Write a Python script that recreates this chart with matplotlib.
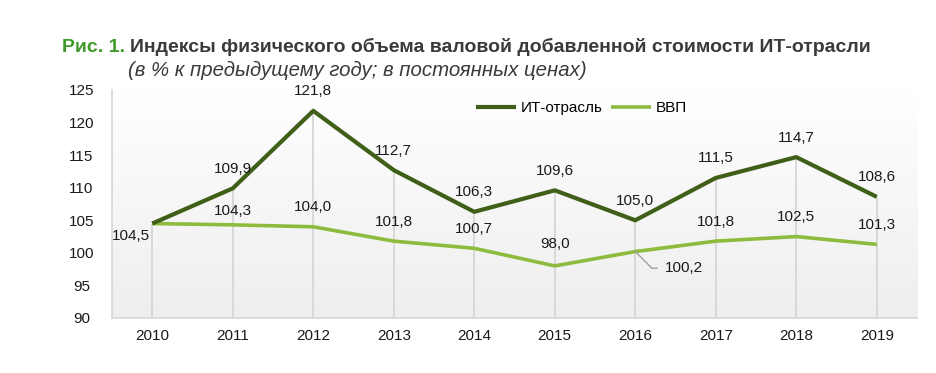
import numpy as np
import matplotlib
matplotlib.use("Agg")
import matplotlib.pyplot as plt

years = ["2010", "2011", "2012", "2013", "2014", "2015", "2016", "2017", "2018", "2019"]
it_values = [104.5, 109.9, 121.8, 112.7, 106.3, 109.6, 105.0, 111.5, 114.7, 108.6]
gdp_values = [104.5, 104.3, 104.0, 101.8, 100.7, 98.0, 100.2, 101.8, 102.5, 101.3]
series_names = ["ИТ-отрасль", "ВВП"]
yticks = [90, 95, 100, 105, 110, 115, 120, 125]

plt.rcParams['font.family'] = ['Liberation Sans', 'DejaVu Sans']

W, H = 936, 373
fig = plt.figure(figsize=(W / 100, H / 100), dpi=100)
ax = fig.add_axes([112 / W, 1 - 318 / H, (917 - 112) / W, (318 - 90) / H])

x = np.arange(len(years))
ax.set_xlim(-0.5, len(years) - 0.5)
ax.set_ylim(90, 125)

# gradient background
grad = np.linspace(0, 1, 256).reshape(-1, 1)
cmap = matplotlib.colors.LinearSegmentedColormap.from_list("g", ["#eeeeee", "#ffffff"])
ax.imshow(grad, aspect="auto", cmap=cmap, origin="lower",
          extent=[-0.5, len(years) - 0.5, 90, 125], zorder=0)

# drop lines
tops = np.maximum(it_values, gdp_values)
ax.vlines(x, 90, tops, color="#d6d6d6", lw=1.3, zorder=1)

it_color = "#3f5e17"
gdp_color = "#8dbb3e"
l_gdp, = ax.plot(x, gdp_values, color=gdp_color, lw=2.6, label=series_names[1], zorder=3,
                 solid_capstyle="butt")
l_it, = ax.plot(x, it_values, color=it_color, lw=3.0, label=series_names[0], zorder=4,
                solid_capstyle="butt")

fs = 11
def fmt(v):
    return f"{v:.1f}".replace(".", ",")

for i, v in enumerate(it_values):
    if i == 0:
        continue
    ax.annotate(fmt(v), (x[i], v), xytext=(0, 14), textcoords="offset points",
                ha="center", va="center", fontsize=fs, color="#1a1a1a", zorder=5)

for i, v in enumerate(gdp_values):
    if i == 0:
        ax.annotate(fmt(v), (x[i], v), xytext=(-15, -9), textcoords="offset points",
                    ha="center", va="center", fontsize=fs, color="#1a1a1a", zorder=5)
    elif i == 6:
        ax.annotate(fmt(v), (x[i], v), xytext=(21, -12), textcoords="offset points",
                    ha="left", va="center", fontsize=fs, color="#1a1a1a", zorder=5,
                    arrowprops=dict(arrowstyle="-", color="#a0a0a0", lw=1.0,
                                    shrinkA=3, shrinkB=0,
                                    connectionstyle="angle,angleA=0,angleB=-45,rad=0"))
    else:
        off = 10 if i == 1 else 14
        if i == 5:
            off = 16
        ax.annotate(fmt(v), (x[i], v), xytext=(0, off), textcoords="offset points",
                    ha="center", va="center", fontsize=fs, color="#1a1a1a", zorder=5)

ax.set_xticks(x)
ax.set_xticklabels(years, fontsize=fs, color="#1a1a1a")
ax.set_yticks(yticks)
ax.set_yticklabels([str(t) for t in yticks], fontsize=fs, color="#1a1a1a")
ax.tick_params(axis="both", length=0)
ax.tick_params(axis="x", pad=8)
ax.tick_params(axis="y", pad=22)
for lbl in ax.get_yticklabels():
    lbl.set_horizontalalignment("center")

for s in ["top", "right"]:
    ax.spines[s].set_visible(False)
ax.spines["left"].set_color("#d6d6d6")
ax.spines["bottom"].set_color("#d6d6d6")
ax.spines["left"].set_linewidth(1.2)
ax.spines["bottom"].set_linewidth(1.2)

leg = ax.legend(handles=[l_it, l_gdp], labels=series_names,
                loc="upper left", bbox_to_anchor=((470 - 112) / (917 - 112), 1 - (95 - 90) / 228),
                ncol=2, frameon=False, fontsize=fs, handlelength=2.6, handletextpad=0.3,
                columnspacing=0.6, borderaxespad=0)

fig.text(62 / W, 1 - 47 / H, "Рис. 1.", fontsize=14, fontweight="bold", color="#3f9a2a",
         ha="left", va="center")
fig.text(130 / W, 1 - 47 / H, "Индексы физического объема валовой добавленной стоимости ИТ-отрасли",
         fontsize=14, fontweight="bold", color="#3a3a3a", ha="left", va="center")
fig.text(128 / W, 1 - 70 / H, "(в % к предыдущему году; в постоянных ценах)",
         fontsize=14.7, style="italic", color="#3a3a3a", ha="left", va="center")

fig.savefig("out.png", dpi=100, facecolor="white")
